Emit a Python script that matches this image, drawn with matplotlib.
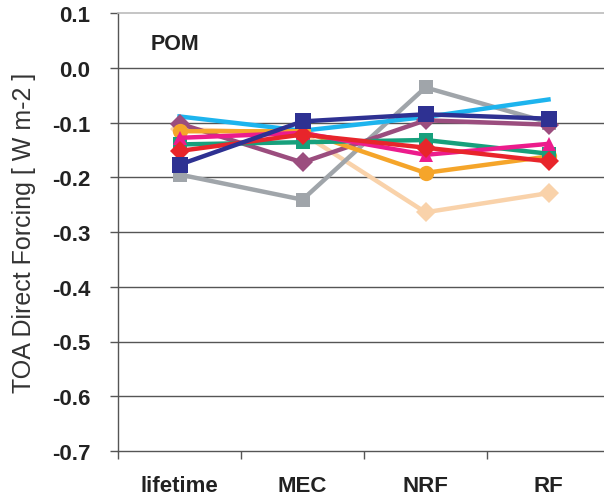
import matplotlib
matplotlib.use("Agg")
import matplotlib.pyplot as plt

plt.rcParams['font.family'] = ['Liberation Sans', 'DejaVu Sans']

categories = ["lifetime", "MEC", "NRF", "RF"]
y_ticks = [0.1, 0.0, -0.1, -0.2, -0.3, -0.4, -0.5, -0.6, -0.7]
y_tick_labels = ["0.1", "0.0", "-0.1", "-0.2", "-0.3", "-0.4", "-0.5", "-0.6", "-0.7"]

peach = [-0.112, -0.120, -0.264, -0.229]
grey = [-0.195, -0.241, -0.036, -0.100]
cyan = [-0.089, -0.115, -0.090, -0.058]
mauve = [-0.102, -0.173, -0.096, -0.104]
orange = [-0.116, -0.116, -0.192, -0.162]
green = [-0.140, -0.136, -0.132, -0.157]
red = [-0.152, -0.122, -0.146, -0.171]
pink = [-0.128, -0.119, -0.159, -0.139]
navy = [-0.177, -0.098, -0.085, -0.093]

series = [
    (peach, "#F9D2AA", "D", 10),
    (grey, "#A0A5AA", "s", 9.5),
    (cyan, "#1DB4EE", None, 0),
    (mauve, "#9B4D7E", "D", 10),
    (orange, "#F5A52A", "o", 11),
    (green, "#17A07C", "s", 9.5),
    (pink, "#EC1C8C", "^", 10),
    (red, "#E8252B", "D", 10),
    (navy, "#2E3192", "s", 11),
]

fig = plt.figure(figsize=(6.04, 5.02), dpi=100)
ax = fig.add_axes([118/604, 1-452/502, (610-118)/604, (452-14)/502])

x = list(range(len(categories)))
for vals, col, mk, ms in series:
    ax.plot(x, vals, color=col, lw=3.2, marker=mk, markersize=ms,
            markeredgewidth=0, solid_joinstyle='miter', zorder=3, clip_on=False)

ax.set_xlim(-0.5, 3.5)
ax.set_ylim(-0.7, 0.1)

for v in y_ticks[1:-1]:
    ax.axhline(v, color="#555555", lw=1.0, zorder=1)

ax.spines['top'].set_color("#BBBBBB")
ax.spines['top'].set_linewidth(1.2)
ax.spines['right'].set_visible(False)
ax.spines['left'].set_color("#555555")
ax.spines['bottom'].set_color("#555555")
ax.spines['left'].set_linewidth(1.0)
ax.spines['bottom'].set_linewidth(1.0)

ax.set_yticks(y_ticks)
ax.set_yticklabels(y_tick_labels, fontsize=16, fontweight='bold', color="#222222")
ax.tick_params(axis='y', direction='out', length=6, width=1.0, color="#555555", pad=14)

ax.set_xticks([-0.5, 0.5, 1.5, 2.5])
ax.set_xticklabels([])
ax.tick_params(axis='x', which='major', direction='out', length=6, width=1.0, color="#555555")
ax.set_xticks(x, minor=True)
ax.set_xticklabels(categories, minor=True, fontsize=16, fontweight='bold', color="#222222")
ax.tick_params(axis='x', which='minor', length=0, pad=17)

ax.set_ylabel("TOA Direct Forcing [ W m-2 ]", fontsize=18, color="#333333")
ax.yaxis.set_label_coords(-0.167, 0.5)

ax.text(151/604, 1-45/502, "POM", transform=fig.transFigure, fontsize=15.5,
        fontweight='bold', color="#222222", va='center', ha='left')

fig.savefig("out.png", dpi=100)
